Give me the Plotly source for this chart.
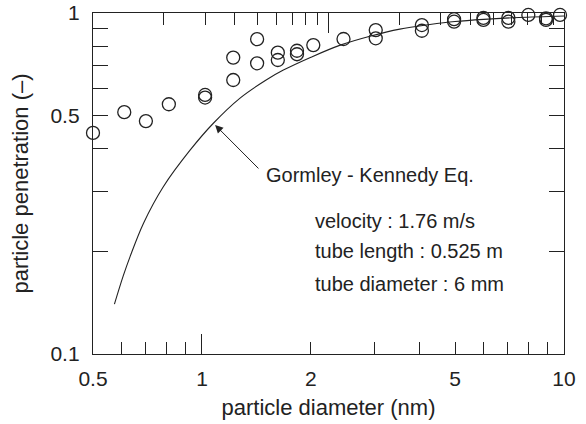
import math
import plotly.graph_objects as go

# measured data (particle diameter nm, penetration)
meas_d = [0.5, 0.61, 0.70, 0.81, 1.02, 1.02, 1.22, 1.22, 1.42, 1.42, 1.62, 1.62,
          1.83, 1.83, 2.03, 2.46, 3.02, 3.02, 4.05, 4.05, 4.97, 4.97, 5.99, 5.99,
          7.02, 7.02, 7.97, 8.92, 8.92, 9.75]
meas_p = [0.445, 0.512, 0.482, 0.540, 0.575, 0.565, 0.740, 0.636, 0.838, 0.712, 0.765, 0.728,
          0.775, 0.757, 0.805, 0.839, 0.891, 0.843, 0.922, 0.887, 0.959, 0.943, 0.968, 0.954,
          0.968, 0.943, 0.987, 0.965, 0.954, 0.987]

# Gormley-Kennedy curve
gk_d = [0.573, 0.606, 0.633, 0.689, 0.782, 0.927, 1.075, 1.274, 1.5, 1.678, 2.0, 2.41, 2.91,
        3.52, 4.26, 5.0, 6.0, 7.5, 10.0]
gk_p = [0.140, 0.1694, 0.193, 0.2415, 0.3094, 0.396, 0.475, 0.563, 0.635, 0.680, 0.742, 0.805, 0.855,
        0.897, 0.925, 0.944, 0.958, 0.970, 0.980]

x_tickvals = [0.5, 1, 2, 5, 10]
x_ticktext = ["0.5", "1", "2", "5", "10"]
x_minor = [0.6, 0.7, 0.8, 0.9, 3, 4, 6, 7, 8, 9]
y_tickvals = [0.1, 0.5, 1]
y_ticktext = ["0.1", "0.5", "1"]
y_minor = [0.2, 0.3, 0.4, 0.6, 0.7, 0.8, 0.9]
top_major = [10]
top_minor = [2, 3, 4, 5, 6, 7, 8, 9, 20, 30, 40, 50, 60, 70, 80, 90]

FONT = "Liberation Sans, Arial, Helvetica, sans-serif"
INK = "#222222"

fig = go.Figure()
fig.add_trace(go.Scatter(x=gk_d, y=gk_p, mode="lines", line=dict(color=INK, width=1.1, shape="spline"),
                         showlegend=False, hoverinfo="skip"))
fig.add_trace(go.Scatter(x=meas_d, y=meas_p, mode="markers",
                         marker=dict(symbol="circle-open", size=13, color=INK, line=dict(width=1.3, color=INK)),
                         showlegend=False, cliponaxis=False))
# empty traces so the tick-only axes are registered
fig.add_trace(go.Scatter(x=top_minor, y=[None] * len(top_minor), xaxis="x2", yaxis="y",
                         mode="lines", showlegend=False, hoverinfo="skip"))
fig.add_trace(go.Scatter(x=x_minor, y=[None] * len(x_minor), xaxis="x3", yaxis="y",
                         mode="lines", showlegend=False, hoverinfo="skip"))

fig.update_layout(
    width=586, height=424,
    margin=dict(l=93, r=22, t=13, b=70, autoexpand=False),
    paper_bgcolor="white", plot_bgcolor="white",
    font=dict(family=FONT, size=21, color=INK),
    xaxis=dict(type="log", range=[math.log10(0.5), 1], showgrid=False, zeroline=False, automargin=False,
               showline=True, linecolor=INK, linewidth=1.3, mirror=False,
               tickmode="array", tickvals=x_tickvals, ticktext=x_ticktext,
               ticks="inside", ticklen=12, tickwidth=1.3, tickcolor=INK,
               ticklabelstandoff=6, tickfont=dict(size=21), ticklabeloverflow="allow",
               minor=dict(tickmode="array", tickvals=x_minor, ticks="inside", ticklen=12,
                          tickwidth=1.3, tickcolor=INK, showgrid=False),
               title=dict(text="particle diameter (nm)", font=dict(size=22), standoff=10)),
    xaxis3=dict(type="log", range=[math.log10(0.5), 1], overlaying="x", side="bottom", anchor="y",
                showgrid=False, zeroline=False, showline=False, showticklabels=False, automargin=False,
                tickmode="array", tickvals=[1], ticks="inside", ticklen=20, tickwidth=1.3, tickcolor=INK),
    xaxis2=dict(type="log", range=[0, 2], overlaying="x", side="top", anchor="y",
                showgrid=False, zeroline=False, showline=True, linecolor=INK, linewidth=1.3,
                showticklabels=False, automargin=False, tickmode="array", tickvals=top_major,
                ticks="inside", ticklen=20, tickwidth=1.3, tickcolor=INK,
                minor=dict(tickmode="array", tickvals=top_minor, ticks="inside", ticklen=12,
                           tickwidth=1.3, tickcolor=INK, showgrid=False)),
    yaxis=dict(type="log", range=[-1, 0], showgrid=False, zeroline=False, automargin=False,
               showline=True, linecolor=INK, linewidth=1.3, mirror="ticks",
               tickmode="array", tickvals=y_tickvals, ticktext=y_ticktext,
               ticks="inside", ticklen=15, tickwidth=1.3, tickcolor=INK,
               ticklabelstandoff=8, tickfont=dict(size=21), ticklabeloverflow="allow",
               minor=dict(tickmode="array", tickvals=y_minor, ticks="inside", ticklen=15,
                          tickwidth=1.3, tickcolor=INK, showgrid=False),
               title=dict(text="particle penetration (\u2013)", font=dict(size=22), standoff=15)),
)

# arrow to curve
fig.add_annotation(x=math.log10(1.087), y=math.log10(0.4695), xref="x", yref="y",
                   ax=math.log10(1.446), ay=math.log10(0.3465), axref="x", ayref="y",
                   text="", showarrow=True, arrowhead=2, arrowsize=1.6, arrowwidth=1,
                   arrowcolor=INK, standoff=0, startstandoff=0)

notes = [
    ("Gormley - Kennedy Eq.", 0.363, 0.525),
    ("velocity : 1.76 m/s", 0.467, 0.390),
    ("tube length : 0.525 m", 0.467, 0.302),
    ("tube diameter : 6 mm", 0.467, 0.205),
]
for txt, px, py in notes:
    fig.add_annotation(x=px, y=py, xref="paper", yref="paper", text=txt, showarrow=False,
                       xanchor="left", yanchor="middle", font=dict(size=20, color=INK))

fig.write_html("out.html", config={"displayModeBar": False},
               post_script="document.body.style.margin='0';document.body.style.overflow='hidden';")
